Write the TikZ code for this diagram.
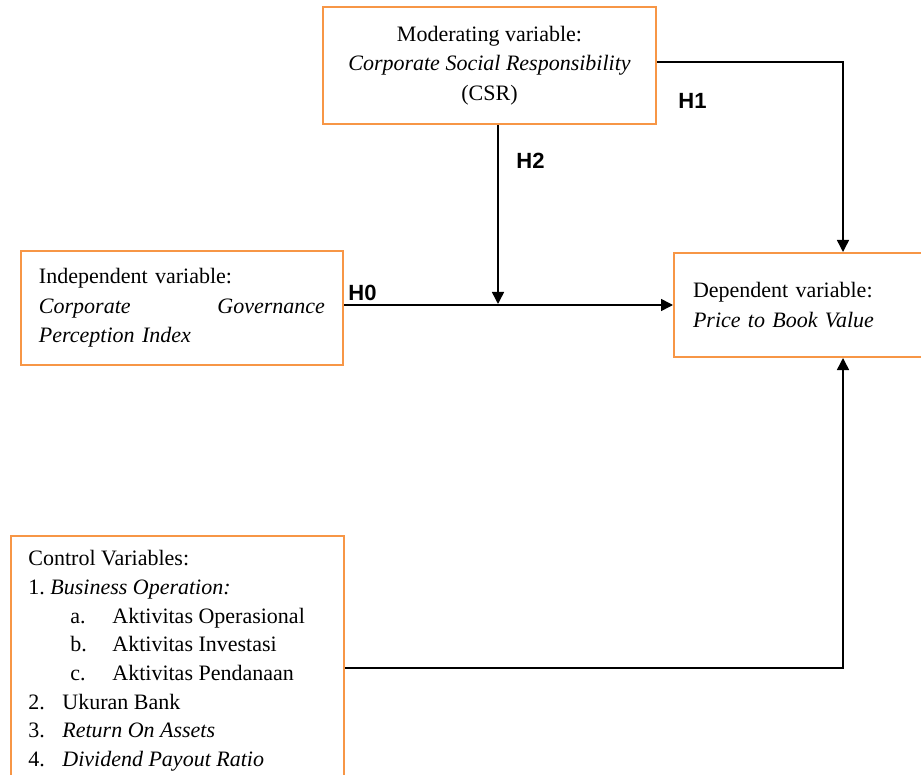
\documentclass[tikz,border=0pt]{standalone}
\usepackage{fontspec}
\setmainfont{Liberation Serif}
\newfontfamily\hypfont{Liberation Sans}
\usepackage{xcolor}
\usetikzlibrary{arrows.meta}
\usetikzlibrary{calc}

\definecolor{boxorange}{HTML}{F79646}

\tikzset{
  varbox/.style={draw=boxorange, line width=1pt, inner sep=0pt, font=\fontsize{11}{14.8}\selectfont},
  hyplabel/.style={font=\hypfont\bfseries\fontsize{11}{13}\selectfont, inner sep=0pt, anchor=base west},
  link/.style={line width=0.75pt, -{Triangle[length=6pt,width=6pt]}}
}

\begin{document}
\begin{tikzpicture}[x=0.5pt, y=-0.5pt]
				\clip (0,0) rectangle (921,775);
				\fill[white] (0,0) rectangle (921,775);
				
				% Variable boxes
				\node[varbox, minimum width=166.5pt, minimum height=58.5pt, align=center] (mod) at (489.5,65.5) {Moderating variable:\\ \textit{Corporate Social Responsibility}\\ (CSR)};
				\node[varbox, minimum width=161pt, minimum height=56.5pt, text width=143pt, align=left] (indep) at (182,308) {Independent variable:\\ \makebox[143pt]{\textit{Corporate}\hfill\textit{Governance}}\\ \textit{Perception Index}};
				\node[varbox, anchor=north west, minimum width=150pt, minimum height=52pt, text width=131pt, align=left] (dep) at (673,252) {Dependent variable:\\ \textit{Price to Book Value}};
				
				% Control variables
				\node[varbox, anchor=north west, minimum width=166.5pt, minimum height=150pt] (ctrl) at (10,535) {};
				\node[anchor=north west, inner sep=0pt, align=left, font=\fontsize{11}{14.35}\selectfont] (ctrltext) at (28,550) {Control Variables:\\
					1.\ \textit{Business Operation:}\\
					\hspace*{21pt}\makebox[21pt][l]{a.}Aktivitas Operasional\\
					\hspace*{21pt}\makebox[21pt][l]{b.}Aktivitas Investasi\\
					\hspace*{21pt}\makebox[21pt][l]{c.}Aktivitas Pendanaan\\
					\makebox[17pt][l]{2.}Ukuran Bank\\
					\makebox[17pt][l]{3.}\textit{Return On Assets}\\
					\makebox[17pt][l]{4.}\textit{Dividend Payout Ratio}};
				
				% Connectors
				\coordinate (rail) at (843,668);
				\coordinate (h2end) at (498,304);
				\draw[link] (dep.west -| indep.east) -- (dep.west);
				\draw[link] (mod.south -| h2end) -- (h2end);
				\draw[link] ([yshift=1.75pt]mod.east) -| (dep.north -| rail);
				\draw[link] (ctrl.east |- rail) -| (dep.south -| rail);
				
				% Hypotheses
				\node[hyplabel] (h0) at (348,300) {H0};
				\node[hyplabel] (h1) at (678,109) {H1};
				\node[hyplabel] (h2) at (516,169) {H2};
			\end{tikzpicture}
\end{document}
